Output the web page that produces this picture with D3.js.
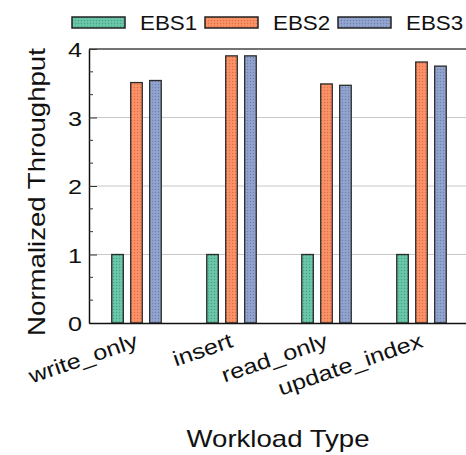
<!DOCTYPE html>
<html>
<head>
<meta charset="utf-8">
<script src="https://cdn.jsdelivr.net/npm/d3@7"></script>
<style>
  html, body { margin: 0; padding: 0; background: #fff; }
  svg { display: block; }
  text { font-family: "Liberation Sans", Arial, sans-serif; fill: #111; }
</style>
</head>
<body>
<svg id="chart" width="466" height="455"></svg>
<script>
// Workload categories and normalized throughput per storage volume type
const workloads = ["write_only", "insert", "read_only", "update_index"];
const seriesNames = ["EBS1", "EBS2", "EBS3"];
const ebs1 = [1.0, 1.0, 1.0, 1.0];
const ebs2 = [3.51, 3.90, 3.49, 3.81];
const ebs3 = [3.54, 3.90, 3.47, 3.75];
const yTicks = [0, 1, 2, 3, 4];
const colors = ["#66c2a5", "#fc8d62", "#8da0cb"];

const seriesValues = [ebs1, ebs2, ebs3];
const rows = workloads.map((w, i) => ({
  workload: w,
  values: seriesNames.map((s, j) => ({ series: s, value: seriesValues[j][i] }))
}));

const svg = d3.select("#chart");
const plot = { left: 89, top: 49, right: 469, bottom: 323 };
const stretch = 1.2; // wide glyph rendering of all labels

const x0 = d3.scaleBand().domain(workloads).range([plot.left, plot.right]).padding(0);
const x1 = d3.scaleBand().domain(seriesNames).range([0, x0.bandwidth()])
  .paddingInner(0.39).paddingOuter(1.2);
const y = d3.scaleLinear().domain([0, 4]).range([plot.bottom, plot.top]);

// dotted fills for bars
const defs = svg.append("defs");
seriesNames.forEach((s, i) => {
  const p = defs.append("pattern")
    .attr("id", "pat" + i).attr("patternUnits", "userSpaceOnUse")
    .attr("width", 3).attr("height", 3);
  p.append("rect").attr("width", 3).attr("height", 3).attr("fill", colors[i]);
  p.append("rect").attr("x", 0).attr("y", 0).attr("width", 1).attr("height", 1)
    .attr("fill", d3.color(colors[i]).darker(0.6));
  p.append("rect").attr("x", 1.5).attr("y", 1.5).attr("width", 1).attr("height", 1)
    .attr("fill", d3.color(colors[i]).brighter(0.3));
});

// horizontal grid
svg.append("g")
  .selectAll("line")
  .data(yTicks.filter(t => t > 0 && t < 4))
  .join("line")
  .attr("x1", plot.left).attr("x2", plot.right)
  .attr("y1", d => y(d)).attr("y2", d => y(d))
  .attr("stroke", "#c8c8c8").attr("stroke-width", 1);

// bars
const groups = svg.append("g")
  .selectAll("g")
  .data(rows)
  .join("g")
  .attr("transform", d => `translate(${x0(d.workload)},0)`);

groups.selectAll("rect")
  .data(d => d.values)
  .join("rect")
  .attr("x", d => x1(d.series))
  .attr("width", x1.bandwidth())
  .attr("y", d => y(d.value))
  .attr("height", d => y(0) - y(d.value))
  .attr("fill", d => `url(#pat${seriesNames.indexOf(d.series)})`)
  .attr("stroke", "#2b2b2b")
  .attr("stroke-width", 1.3);

// frame
svg.append("line").attr("x1", plot.left).attr("x2", plot.right)
  .attr("y1", plot.top).attr("y2", plot.top)
  .attr("stroke", "#444").attr("stroke-width", 1.3);

// y axis with inward ticks
const yAxis = d3.axisLeft(y).tickValues(yTicks).tickFormat(d3.format("d"))
  .tickSizeInner(-8).tickSizeOuter(0).tickPadding(14);
const yG = svg.append("g").attr("transform", `translate(${plot.left},0)`).call(yAxis);
yG.select(".domain").attr("stroke", "#111").attr("stroke-width", 1.5);
yG.selectAll(".tick line").attr("stroke", "#333");
yG.selectAll(".tick text")
  .attr("font-size", 21)
  .attr("fill", "#111")
  .attr("x", null).attr("dy", null)
  .attr("transform", `translate(-7,7.5) scale(${stretch},1)`);

// minor ticks at thirds
const minor = d3.range(0, 12).map(i => i / 3).filter(v => Math.abs(v - Math.round(v)) > 1e-6);
svg.append("g").selectAll("line").data(minor).join("line")
  .attr("x1", plot.left).attr("x2", plot.left + 4)
  .attr("y1", d => y(d)).attr("y2", d => y(d))
  .attr("stroke", "#333");

// x axis
const xAxis = d3.axisBottom(x0).tickSize(0).tickPadding(0);
const xG = svg.append("g").attr("transform", `translate(0,${plot.bottom})`).call(xAxis);
xG.select(".domain").attr("stroke", "#111").attr("stroke-width", 1.5);
xG.selectAll(".tick text")
  .attr("font-size", 21)
  .attr("fill", "#111")
  .attr("text-anchor", "end")
  .attr("y", null).attr("dy", null)
  .attr("transform", `translate(0,16) rotate(-19) scale(${stretch},1) translate(0,8)`);

// axis titles
svg.append("text")
  .attr("transform", `translate(45,192) rotate(-90) scale(${stretch},1)`)
  .attr("text-anchor", "middle")
  .attr("font-size", 23)
  .text("Normalized Throughput");

svg.append("text")
  .attr("transform", `translate(278,447) scale(${stretch},1)`)
  .attr("text-anchor", "middle")
  .attr("font-size", 23)
  .text("Workload Type");

// legend
const legendX = [72, 205, 338];
const legend = svg.append("g").selectAll("g").data(seriesNames).join("g")
  .attr("transform", (d, i) => `translate(${legendX[i]},17)`);
legend.append("rect")
  .attr("width", 53).attr("height", 11)
  .attr("fill", (d, i) => `url(#pat${i})`)
  .attr("stroke", "#222").attr("stroke-width", 1.5);
legend.append("text")
  .attr("transform", `translate(68,12.5) scale(1.12,1)`)
  .attr("font-size", 20)
  .text(d => d);
</script>
</body>
</html>
